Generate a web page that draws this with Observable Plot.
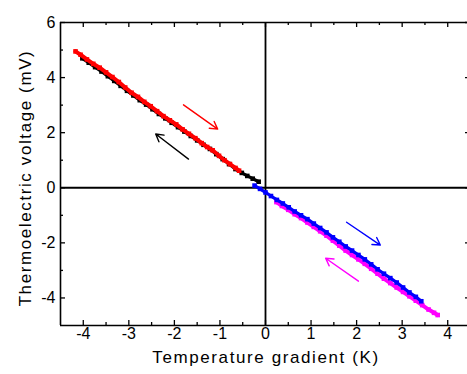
<!DOCTYPE html>
<html><head><meta charset="utf-8">
<script src="https://cdn.jsdelivr.net/npm/d3@7"></script>
<script src="https://cdn.jsdelivr.net/npm/@observablehq/plot@0.6"></script>
<style>
body{margin:0;background:#fff;overflow:hidden}
</style></head><body><div id="chart"></div>
<script>
// Series
const blackX = [-4.02,-3.88,-3.74,-3.60,-3.46,-3.32,-3.18,-3.04,-2.90,-2.76,-2.62,-2.48,-2.34,-2.20,-2.06,-1.92,-1.78,-1.64,-1.50,-1.36,-1.22,-1.08,-0.94,-0.80,-0.66,-0.52,-0.40,-0.28,-0.15];
const blackY = [4.70,4.54,4.38,4.22,4.05,3.88,3.70,3.52,3.35,3.18,3.02,2.85,2.68,2.52,2.36,2.20,2.04,1.88,1.72,1.56,1.41,1.22,1.04,0.86,0.68,0.54,0.43,0.33,0.22];
const redX = [-4.17,-4.06,-3.92,-3.78,-3.64,-3.50,-3.36,-3.22,-3.08,-2.94,-2.80,-2.66,-2.52,-2.38,-2.24,-2.10,-1.96,-1.82,-1.68,-1.54,-1.40,-1.28,-1.16,-1.02,-0.90,-0.78,-0.66,-0.58];
const redY = [4.95,4.83,4.66,4.50,4.36,4.19,4.02,3.84,3.64,3.45,3.30,3.12,2.96,2.78,2.60,2.45,2.30,2.12,1.96,1.80,1.62,1.48,1.36,1.16,1.00,0.86,0.72,0.62];
const blueX = [-0.24,-0.12,0.00,0.12,0.25,0.38,0.51,0.64,0.78,0.92,1.06,1.20,1.34,1.48,1.62,1.76,1.90,2.04,2.18,2.32,2.46,2.60,2.74,2.88,3.02,3.16,3.30,3.42];
const blueY = [0.08,-0.04,-0.17,-0.30,-0.44,-0.57,-0.71,-0.86,-1.00,-1.14,-1.30,-1.46,-1.62,-1.80,-1.96,-2.13,-2.28,-2.44,-2.60,-2.78,-2.96,-3.12,-3.28,-3.44,-3.62,-3.80,-3.96,-4.12];
const magentaX = [0.24,0.36,0.50,0.64,0.78,0.92,1.06,1.20,1.34,1.48,1.62,1.76,1.90,2.04,2.18,2.32,2.46,2.60,2.74,2.88,3.02,3.16,3.30,3.44,3.58,3.70,3.78];
const magentaY = [-0.52,-0.66,-0.80,-0.96,-1.10,-1.26,-1.42,-1.58,-1.74,-1.92,-2.10,-2.28,-2.44,-2.60,-2.76,-2.94,-3.12,-3.30,-3.46,-3.62,-3.78,-3.94,-4.10,-4.26,-4.42,-4.54,-4.62];

// Arrows
const arrowX1 = [-1.80,-1.69,1.78,2.04];
const arrowY1 = [3.01,1.04,-1.25,-3.39];
const arrowX2 = [-1.05,-2.41,2.52,1.32];
const arrowY2 = [2.13,1.95,-2.08,-2.56];
const arrowColor = ["#ff0000","#000000","#0000ff","#ff00ff"];

// Axes
const xDomain = [-4.5, 4.5];
const yDomain = [-5, 6];
const xMajor = [-4,-3,-2,-1,0,1,2,3,4];
const xTickLabels = ["-4","-3","-2","-1","0","1","2","3","4"];
const xMinor = [-3.5,-2.5,-1.5,-0.5,0.5,1.5,2.5,3.5];
const yMajor = [-4,-2,0,2,4,6];
const yTickLabels = ["-4","-2","0","2","4","6"];
const yMinor = [-3,-1,1,3,5];
const xTitle = "Temperature gradient (K)";
const yTitle = "Thermoelectric voltage (mV)";

const W = 467, H = 374, mL = 60, mT = 22, mB = 49, mR = 0;
const fW = W - mL - mR, fH = H - mT - mB;

const pts = (xs, ys) => xs.map((x, i) => ({x, y: ys[i]}));
const series = [
  {d: pts(blackX, blackY), c: "#000000", w: 3.2},
  {d: pts(redX, redY), c: "#ff0000", w: 4},
  {d: pts(magentaX, magentaY), c: "#ff00ff", w: 4},
  {d: pts(blueX, blueY), c: "#0000ff", w: 3.2}
];
const arrows = arrowX1.map((x1, i) => ({x1, y1: arrowY1[i], x2: arrowX2[i], y2: arrowY2[i], c: arrowColor[i]}));

const marks = [];
marks.push(Plot.ruleX([0], {stroke: "black", strokeWidth: 1.8}));
marks.push(Plot.ruleY([0], {stroke: "black", strokeWidth: 1.8}));
for (const s of series) {
  marks.push(Plot.line(s.d, {x: "x", y: "y", stroke: s.c, strokeWidth: s.w}));
  marks.push(Plot.dot(s.d, {x: "x", y: "y", symbol: "square", r: 2.6, fill: s.c, stroke: "none"}));
}
marks.push(Plot.arrow(arrows, {x1: "x1", y1: "y1", x2: "x2", y2: "y2", stroke: "c", strokeWidth: 1.4, headLength: 9}));
marks.push(Plot.ruleY([yDomain[1], yDomain[0]], {stroke: "black", strokeWidth: 1.6}));
marks.push(Plot.ruleX([xDomain[0]], {stroke: "black", strokeWidth: 1.6}));
const tk = {stroke: "black", strokeWidth: 1.3};
marks.push(Plot.tickX(xMajor, {x: d => d, insetTop: fH - 5, ...tk}));
marks.push(Plot.tickX(xMinor, {x: d => d, insetTop: fH - 3, ...tk}));
marks.push(Plot.tickX(xMajor, {x: d => d, insetBottom: fH - 5, ...tk}));
marks.push(Plot.tickX(xMinor, {x: d => d, insetBottom: fH - 3, ...tk}));
marks.push(Plot.tickY(yMajor, {y: d => d, insetRight: fW - 5, ...tk}));
marks.push(Plot.tickY(yMinor, {y: d => d, insetRight: fW - 3, ...tk}));
marks.push(Plot.tickY(yMajor, {y: d => d, insetLeft: fW - 2, ...tk}));
marks.push(Plot.text(xMajor, {x: d => d, text: (d, i) => xTickLabels[i], frameAnchor: "bottom", dy: 13, fontSize: 16, fill: "black"}));
marks.push(Plot.text(yMajor, {y: d => d, text: (d, i) => yTickLabels[i], frameAnchor: "left", textAnchor: "end", dx: -5, fontSize: 16, fill: "black"}));
marks.push(Plot.text([xTitle], {text: d => d, frameAnchor: "bottom", textAnchor: "middle", dy: 37, dx: 2, fontSize: 17, fill: "black"}));
marks.push(Plot.text([yTitle], {text: d => d, frameAnchor: "left", textAnchor: "middle", rotate: -90, dx: -35, dy: 4, fontSize: 17, fill: "black"}));

const chart = Plot.plot({
  width: W, height: H,
  marginLeft: mL, marginRight: mR, marginTop: mT, marginBottom: mB,
  x: {domain: xDomain, range: [mL, 470], axis: null},
  y: {domain: yDomain, axis: null},
  style: {fontFamily: "'Liberation Sans', Arial, sans-serif", background: "white", overflow: "hidden"},
  marks
});
for (const t of chart.querySelectorAll("text")) {
  if (t.textContent === xTitle || t.textContent === yTitle) t.style.letterSpacing = "1.6px";
}
document.getElementById("chart").appendChild(chart);
</script></body></html>
